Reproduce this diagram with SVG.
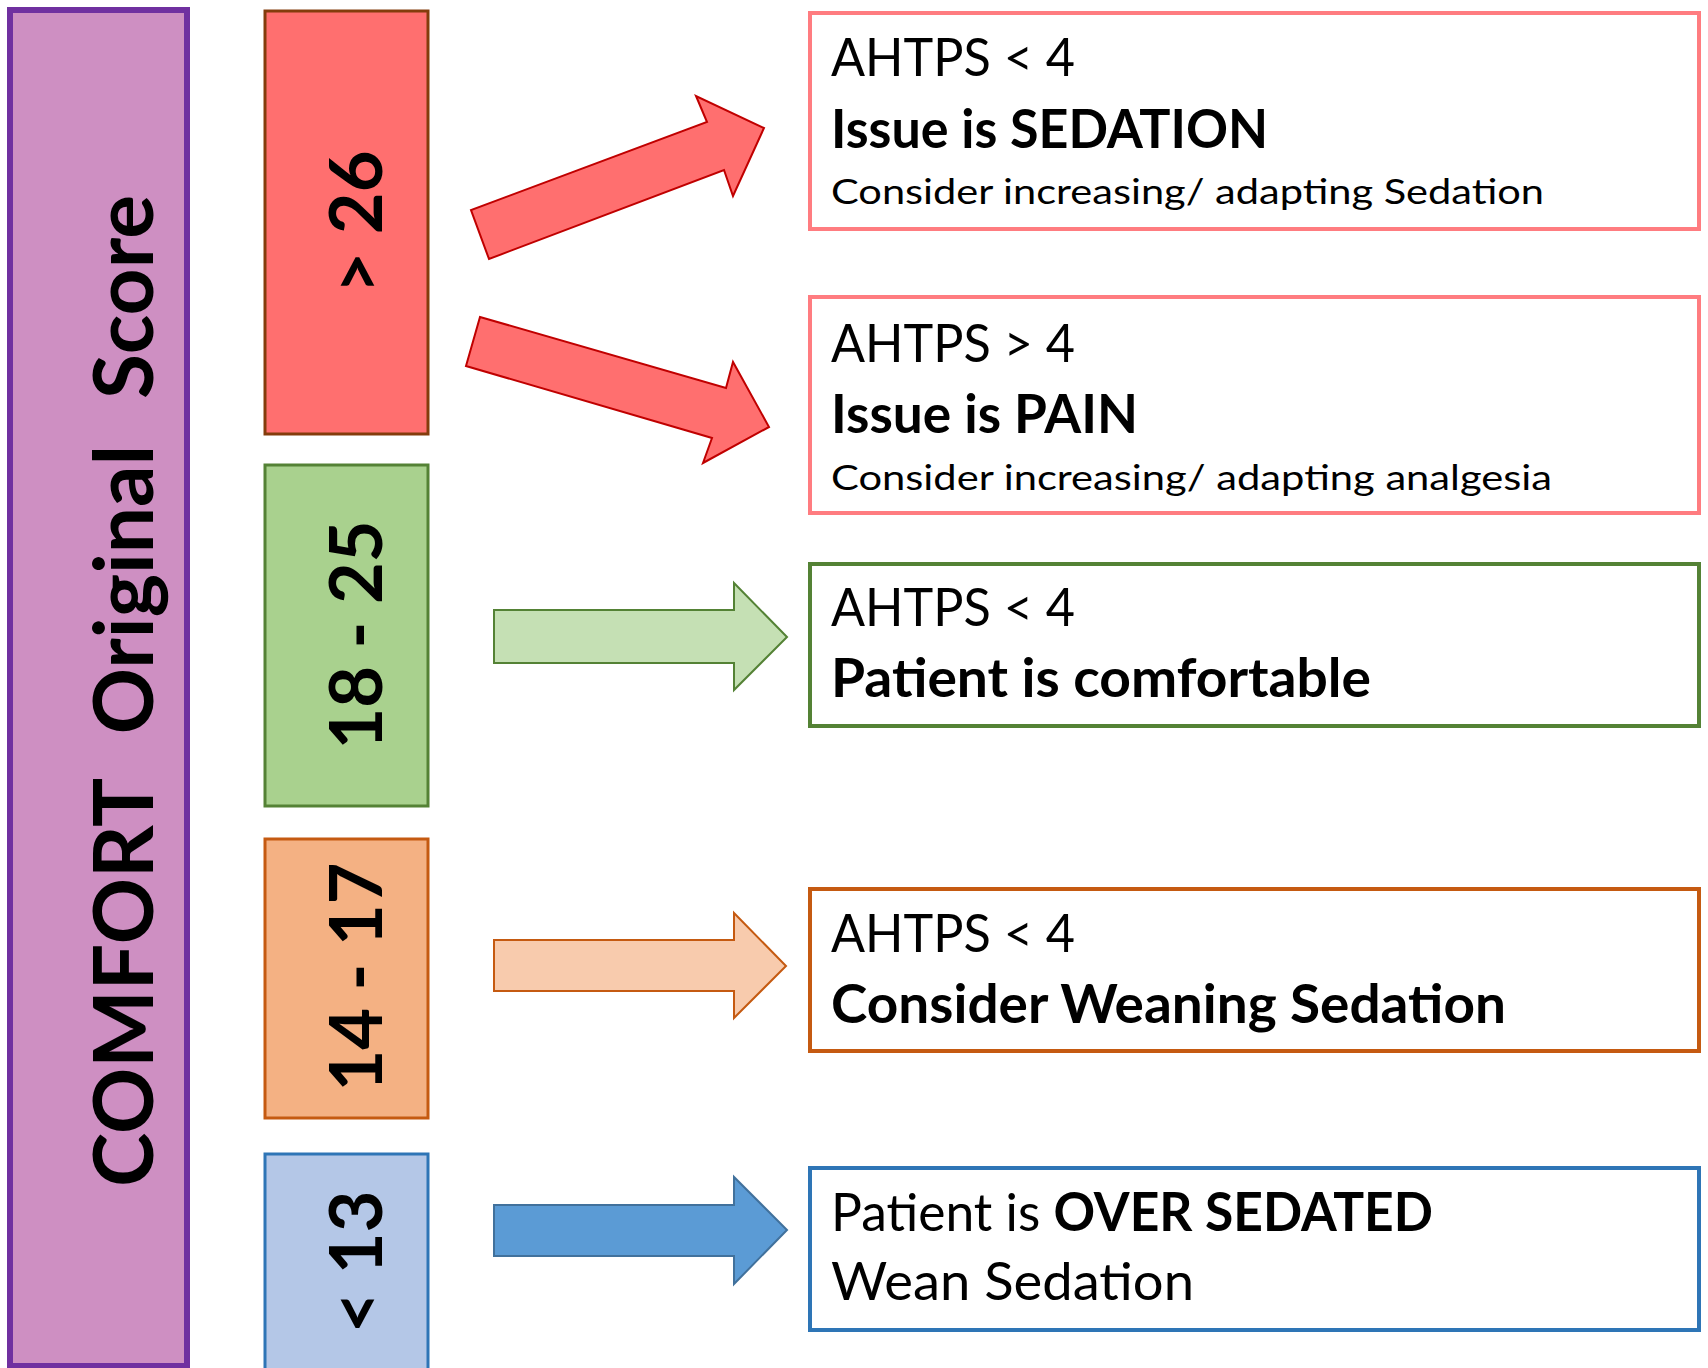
<svg xmlns="http://www.w3.org/2000/svg" width="1708" height="1368" viewBox="0 0 1708 1368">
<style>
.t{font-family:Lato,"Liberation Sans",sans-serif;fill:#000}
.b{font-weight:bold}
.big{font-size:53px}
.sm{font-size:34px}
.num{font-size:72px;font-weight:bold}
.box{fill:#fff;stroke-width:4}
.lbox{stroke-width:3}
.arr{stroke-width:2;stroke-linejoin:miter}
</style>
<rect width="1708" height="1368" fill="#fff"/>
<g id="comfort-score">
<rect x="10" y="10" width="177" height="1356" fill="#CE8FC2" stroke="#7030A0" stroke-width="6"/>
<text class="t b" font-size="82" word-spacing="26" text-anchor="middle" transform="translate(153,691) rotate(-90)">COMFORT Original Score</text>
</g>
<g id="range-gt26">
<rect class="lbox" x="265" y="11" width="163" height="423" fill="#FF6F6F" stroke="#843C0C"/>
<text class="t num" text-anchor="middle" transform="translate(382,222) rotate(-90)">&gt; 26</text>
</g>
<g id="range-18-25">
<rect class="lbox" x="265" y="465" width="163" height="341" fill="#A9D18E" stroke="#548235"/>
<text class="t num" text-anchor="middle" transform="translate(382,635) rotate(-90)">18 - 25</text>
</g>
<g id="range-14-17">
<rect class="lbox" x="265" y="839" width="163" height="279" fill="#F4B183" stroke="#C55A11"/>
<text class="t num" text-anchor="middle" transform="translate(382,977) rotate(-90)">14 - 17</text>
</g>
<g id="range-lt13">
<rect class="lbox" x="265" y="1154" width="163" height="240" fill="#B4C7E7" stroke="#2E75B6"/>
<text class="t num" text-anchor="middle" transform="translate(382,1262) rotate(-90)">&lt; 13</text>
</g>
<g id="connectors">
<polygon class="arr" points="489,259 471,210 707,122 696,96 764,128 733,196 724,170" fill="#FF6F6F" stroke="#C00000"/>
<polygon class="arr" points="480,317 726,388 733,362 769,427 703,463 712,438 466,366" fill="#FF6F6F" stroke="#C00000"/>
<polygon class="arr" points="494,610 734,610 734,583 787,637 734,690 734,663 494,663" fill="#C5E0B4" stroke="#548235"/>
<polygon class="arr" points="494,940 734,940 734,913 786,966 734,1018 734,991 494,991" fill="#F8CBAD" stroke="#C55A11"/>
<polygon class="arr" points="494,1205 734,1205 734,1177 787,1230 734,1284 734,1256 494,1256" fill="#5B9BD5" stroke="#41719C"/>
</g>
<g id="sedation-box">
<rect class="box" x="810" y="13" width="889" height="216" stroke="#FF7C80"/>
<text class="t big" x="831" y="76" textLength="244" lengthAdjust="spacingAndGlyphs">AHTPS &lt; 4</text>
<text class="t big b" x="831" y="148" textLength="437" lengthAdjust="spacingAndGlyphs">Issue is SEDATION</text>
<text class="t sm" x="831" y="204" textLength="713" lengthAdjust="spacingAndGlyphs">Consider increasing/ adapting Sedation</text>
</g>
<g id="pain-box">
<rect class="box" x="810" y="297" width="889" height="216" stroke="#FF7C80"/>
<text class="t big" x="831" y="362" textLength="244" lengthAdjust="spacingAndGlyphs">AHTPS &gt; 4</text>
<text class="t big b" x="831" y="433" textLength="307" lengthAdjust="spacingAndGlyphs">Issue is PAIN</text>
<text class="t sm" x="831" y="490" textLength="721" lengthAdjust="spacingAndGlyphs">Consider increasing/ adapting analgesia</text>
</g>
<g id="comfortable-box">
<rect class="box" x="810" y="564" width="889" height="162" stroke="#548235"/>
<text class="t big" x="831" y="626" textLength="244" lengthAdjust="spacingAndGlyphs">AHTPS &lt; 4</text>
<text class="t big b" x="831" y="697" textLength="540" lengthAdjust="spacingAndGlyphs">Patient is comfortable</text>
</g>
<g id="weaning-box">
<rect class="box" x="810" y="889" width="889" height="162" stroke="#C55A11"/>
<text class="t big" x="831" y="952" textLength="244" lengthAdjust="spacingAndGlyphs">AHTPS &lt; 4</text>
<text class="t big b" x="831" y="1023" textLength="675" lengthAdjust="spacingAndGlyphs">Consider Weaning Sedation</text>
</g>
<g id="oversedated-box">
<rect class="box" x="810" y="1168" width="889" height="162" stroke="#2E75B6"/>
<text class="t big" x="831" y="1231" textLength="602" lengthAdjust="spacingAndGlyphs">Patient is <tspan class="b">OVER SEDATED</tspan></text>
<text class="t big" x="831" y="1300" textLength="363" lengthAdjust="spacingAndGlyphs">Wean Sedation</text>
</g>
</svg>
